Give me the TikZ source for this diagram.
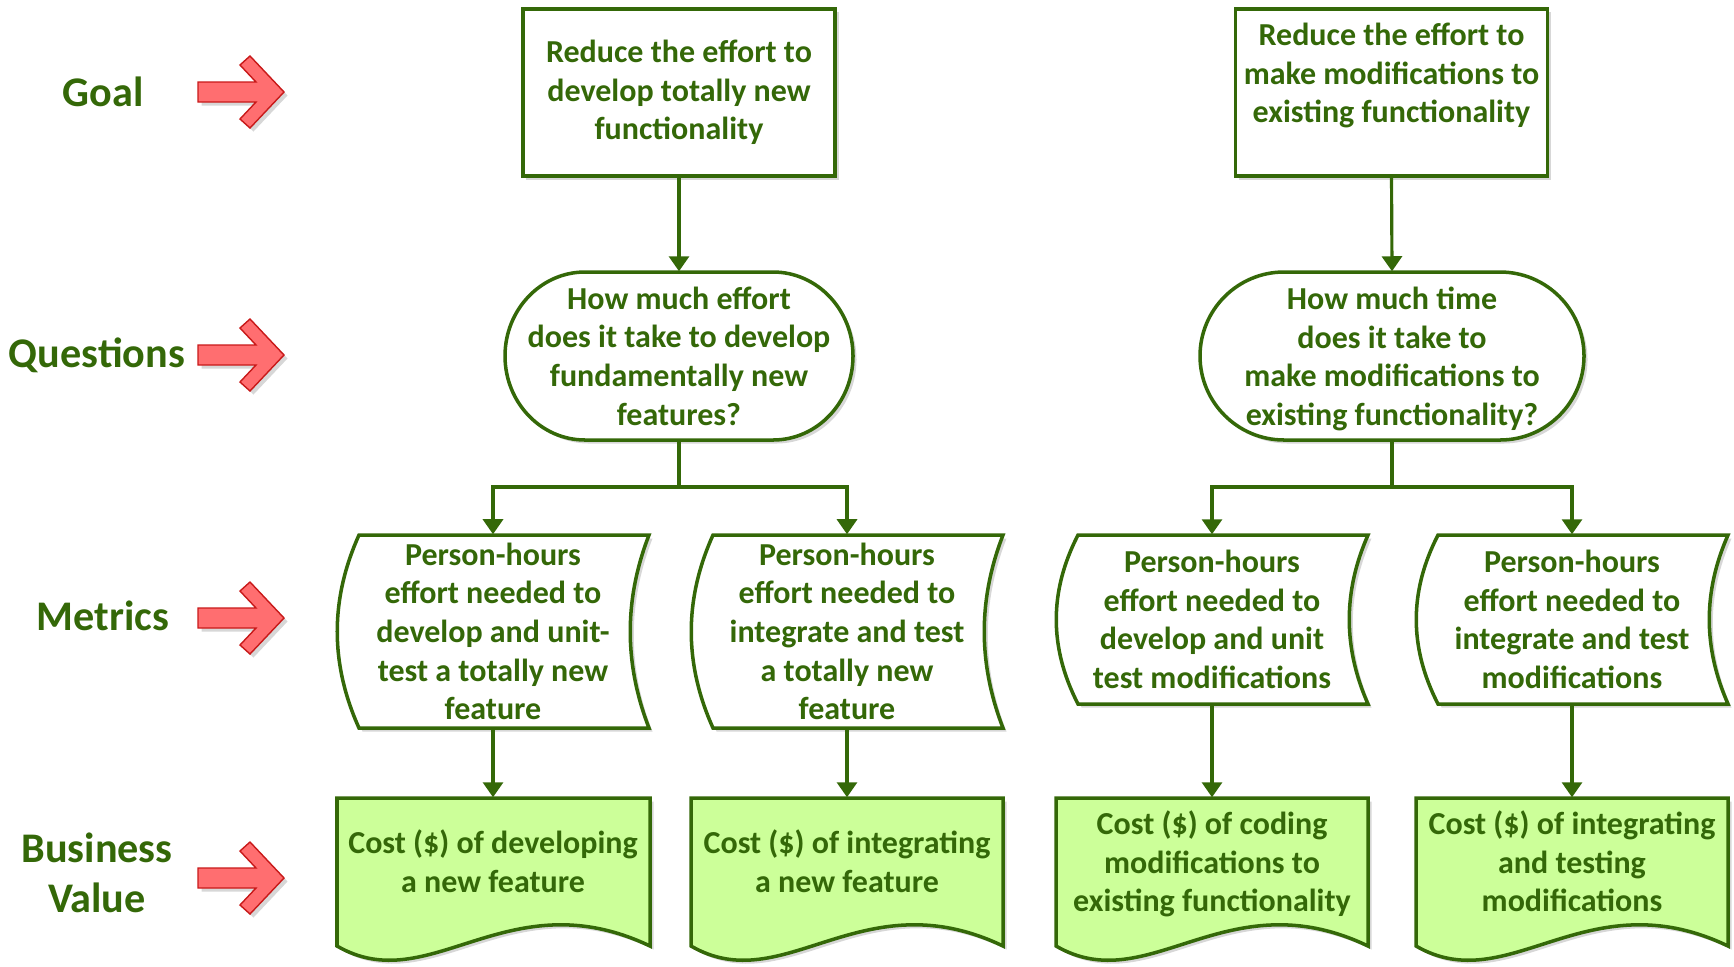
\documentclass[tikz,border=0pt]{standalone}
\usepackage{fontspec}
\setmainfont{Carlito}
\usetikzlibrary{arrows.meta,shadows}

\definecolor{leaf}{RGB}{52,104,8}
\definecolor{mint}{RGB}{204,255,153}
\definecolor{alert}{RGB}{255,110,112}
\definecolor{alertedge}{RGB}{200,25,25}

\tikzset{
  softshadow/.style={drop shadow={shadow xshift=0.035cm, shadow yshift=-0.035cm, fill=black!35, opacity=0.45}},
  shp/.style={draw=leaf, line width=1pt, fill=white, softshadow},
  holder/.style={inner sep=0pt, align=center, text=leaf, font=\fontsize{9.1}{11}\selectfont\bfseries},
  goalbox/.style={holder, shp, minimum width=3.12cm, minimum height=1.67cm},
  conn/.style={draw=leaf, line width=0.9pt, -{Triangle[length=0.15cm,width=0.2cm]}},
  trunk/.style={draw=leaf, line width=0.9pt},
  side/.style={text=leaf, align=center, font=\fontsize{12}{14.2}\selectfont\bfseries},
  pointer/.style={fill=alert, draw=alertedge, line width=0.4pt, line join=miter, softshadow},
}

% rounded terminator with elliptical ends: x0 y0 x1 y1 rx
\newcommand\pillshape[5]{%
  \draw[shp] ({#1+#5},#2) -- ({#3-#5},#2)
    .. controls ({#3-0.448*#5},#2) and (#3,{#2+0.448*(#4-#2)/2}) .. (#3,{(#2+#4)/2})
    .. controls (#3,{#4-0.448*(#4-#2)/2}) and ({#3-0.448*#5},#4) .. ({#3-#5},#4)
    -- ({#1+#5},#4)
    .. controls ({#1+0.448*#5},#4) and (#1,{#4-0.448*(#4-#2)/2}) .. (#1,{(#2+#4)/2})
    .. controls (#1,{#2+0.448*(#4-#2)/2}) and ({#1+0.448*#5},#2) .. cycle;}

% box with both sides bowed to the left: x0 y0 x1 y1
\newcommand\tapeshape[4]{%
  \draw[shp] ({#1+22},#2) -- (#3,#2)
    .. controls ({#3-25},{#2+(#4-#2)/3}) and ({#3-25},{#2+2*(#4-#2)/3}) .. (#3,#4)
    -- ({#1+22},#4)
    .. controls ({#1-7},{#2+2*(#4-#2)/3}) and ({#1-7},{#2+(#4-#2)/3}) .. cycle;}

% document shape with a wavy bottom: x0 y0 x1 ybottom
\newcommand\docshape[4]{%
  \draw[shp, fill=mint] (#1,#2) -- (#3,#2) -- (#3,#4)
    .. controls ({#1+170},{#4-68}) and ({#1+93},{#4+54}) .. (#1,#4) -- cycle;}

% red pointer arrow centred at height #1
\newcommand\pointerarrow[1]{%
  \begin{scope}[shift={(0,#1)}]
    \draw[pointer] (198,-10) -- (256,-10) -- (240,-27) -- (250,-36) -- (284,0)
      -- (250,36) -- (240,27) -- (256,10) -- (198,10) -- cycle;
  \end{scope}}

\begin{document}
\begin{tikzpicture}[x=0.01cm,y=-0.01cm]
\useasboundingbox (0,0) rectangle (1734,966);

% row labels and pointers
\node[side] (lgoal) at (103,92) {Goal};
\node[side] (lquest) at (97,355) {Questions};
\node[side] (lmetric) at (103,616) {Metrics};
\node[side] (lvalue) at (97,873) {Business\\Value};
\pointerarrow{92}
\pointerarrow{355}
\pointerarrow{618}
\pointerarrow{878}

% goals
\node[goalbox] (g1) at (679,92.5) {Reduce the effort to\\develop totally new\\functionality};
\node[goalbox] (g2) at (1391.5,92.5) {};
\node[holder] (g2t) at (1391.5,75.5) {Reduce the effort to\\make modifications to\\existing functionality};

% questions
\pillshape{505}{272}{853}{440}{80}
\node[holder, minimum width=3.48cm, minimum height=1.68cm] (q1) at (679,356)
  {How much effort\\does it take to develop\\fundamentally new\\features?};
\pillshape{1200}{272}{1584}{440}{84}
\node[holder, minimum width=3.84cm, minimum height=1.68cm] (q2) at (1392,356) {};
\node[holder] (q2t) at (1392,359)
  {How much time\\does it take to\\make modifications to\\existing functionality?};

% metrics
\tapeshape{337}{535}{649}{728}
\node[holder, minimum width=3.12cm, minimum height=1.93cm] (m1) at (493,631.5)
  {Person-hours\\effort needed to\\develop and unit-\\test a totally new\\feature};
\tapeshape{691}{535}{1003}{728}
\node[holder, minimum width=3.12cm, minimum height=1.93cm] (m2) at (847,631.5)
  {Person-hours\\effort needed to\\integrate and test\\a totally new\\feature};
\tapeshape{1056}{535}{1368}{704}
\node[holder, minimum width=3.12cm, minimum height=1.69cm] (m3) at (1212,619.5)
  {Person-hours\\effort needed to\\develop and unit\\test modifications};
\tapeshape{1416}{535}{1728}{704}
\node[holder, minimum width=3.12cm, minimum height=1.69cm] (m4) at (1572,619.5)
  {Person-hours\\effort needed to\\integrate and test\\modifications};

% business value
\docshape{337}{798}{650}{946}
\node[holder, minimum width=3.13cm, minimum height=1.27cm] (v1) at (493,861.5)
  {Cost (\$) of developing\\a new feature};
\docshape{691}{798}{1003}{946}
\node[holder, minimum width=3.12cm, minimum height=1.27cm] (v2) at (847,861.5)
  {Cost (\$) of integrating\\a new feature};
\docshape{1056}{798}{1368}{946}
\node[holder, minimum width=3.12cm, minimum height=1.27cm] (v3) at (1212,861.5) {};
\node[holder] (v3t) at (1212,864)
  {Cost (\$) of coding\\modifications to\\existing functionality};
\docshape{1416}{798}{1728}{946}
\node[holder, minimum width=3.12cm, minimum height=1.27cm] (v4) at (1572,861.5)
  {Cost (\$) of integrating\\and testing\\modifications};

% connectors
\draw[conn] (g1.south) -- (q1.north);
\draw[conn] (g2.south) -- (q2.north);
\coordinate (j1) at (679,487);
\coordinate (j2) at (1392,487);
\draw[trunk] (q1.south) -- (j1);
\draw[trunk] (q2.south) -- (j2);
\draw[conn] (j1) -| (m1.north);
\draw[conn] (j1) -| (m2.north);
\draw[conn] (j2) -| (m3.north);
\draw[conn] (j2) -| (m4.north);
\draw[conn] (m1.south) -- (v1.north);
\draw[conn] (m2.south) -- (v2.north);
\draw[conn] (m3.south) -- (v3.north);
\draw[conn] (m4.south) -- (v4.north);
\end{tikzpicture}
\end{document}
